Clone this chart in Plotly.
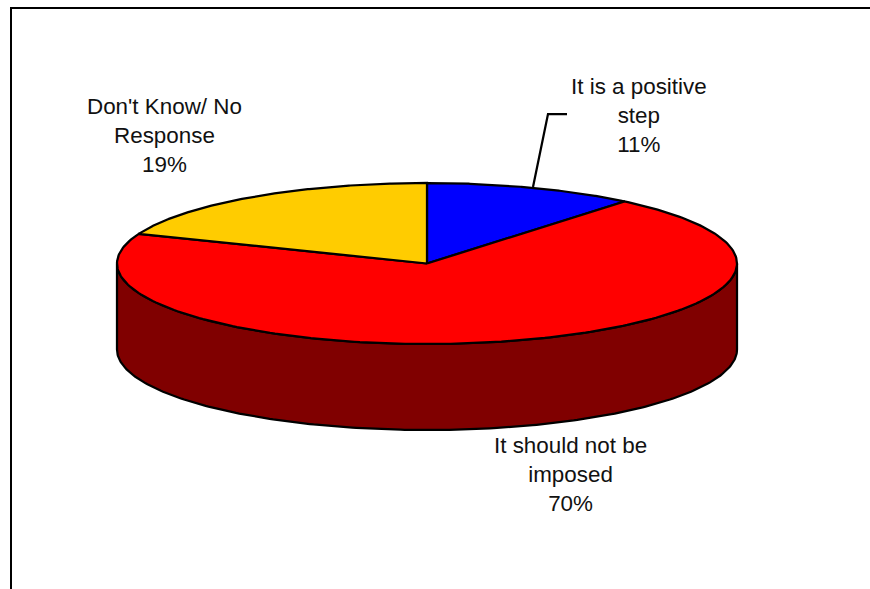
import numpy as np
import plotly.graph_objects as go

labels = ["It is a positive<br>step", "It should not be<br>imposed", "Don't Know/ No<br>Response"]
values = [11, 70, 19]
slice_colors = ["#0000FF", "#FF0000", "#FFCC00"]
side_color = "#800000"

CX, CY, RX, RY, DEPTH = 427, 263.5, 310, 80.5, 86
LW = 2.25
FONT = dict(family="Liberation Sans, Arial, sans-serif", size=22.4, color="#111111")


def rim(a0, a1, n=240):
    t = np.radians(np.linspace(a0, a1, n))
    return CX + RX * np.sin(t), CY - RY * np.cos(t)


fig = go.Figure()

# Visible side wall: the front half of the disc, pushed down by the depth
xf, yf = rim(90, 270)
fig.add_trace(go.Scatter(
    x=np.r_[xf, xf[::-1], xf[0]],
    y=np.r_[yf, yf[::-1] + DEPTH, yf[0]],
    mode="lines", fill="toself", fillcolor=side_color,
    line=dict(color="black", width=LW), hoverinfo="skip", showlegend=False))

# Top face: slices clockwise from 12 o'clock
edges = np.cumsum([0] + values) / sum(values) * 360
for i, (v, c) in enumerate(zip(values, slice_colors)):
    xs, ys = rim(edges[i], edges[i + 1])
    fig.add_trace(go.Scatter(
        x=np.r_[CX, xs, CX], y=np.r_[CY, ys, CY],
        mode="lines", fill="toself", fillcolor=c,
        line=dict(color="black", width=LW), hoverinfo="skip", showlegend=False))

# Leader line of the first label
fig.add_trace(go.Scatter(
    x=[533, 548, 567], y=[187, 114, 114], mode="lines",
    line=dict(color="black", width=LW), hoverinfo="skip", showlegend=False))

label_pos = [(639, 115), (570, 474), (164, 135)]
for lab, v, (x, y) in zip(labels, values, label_pos):
    fig.add_annotation(x=x, y=y, xref="x", yref="y", text=f"{lab}<br>{v}%",
                       showarrow=False, font=FONT, align="center",
                       xanchor="center", yanchor="middle")

# Chart frame (only the left and top edges fall inside the picture)
fig.add_shape(type="line", xref="x", yref="y", x0=11, x1=11, y0=8, y1=589, line=dict(color="black", width=2))
fig.add_shape(type="line", xref="x", yref="y", x0=10, x1=870, y0=8, y1=8, line=dict(color="black", width=2))

fig.update_layout(
    width=870, height=589, margin=dict(l=0, r=0, t=0, b=0),
    paper_bgcolor="white", plot_bgcolor="white", showlegend=False,
    xaxis=dict(range=[0, 870], visible=False, fixedrange=True),
    yaxis=dict(range=[589, 0], visible=False, fixedrange=True),
)
fig.write_html("out.html", config=dict(displayModeBar=False),
               post_script="document.body.style.margin='0';document.documentElement.style.overflow='hidden';")
